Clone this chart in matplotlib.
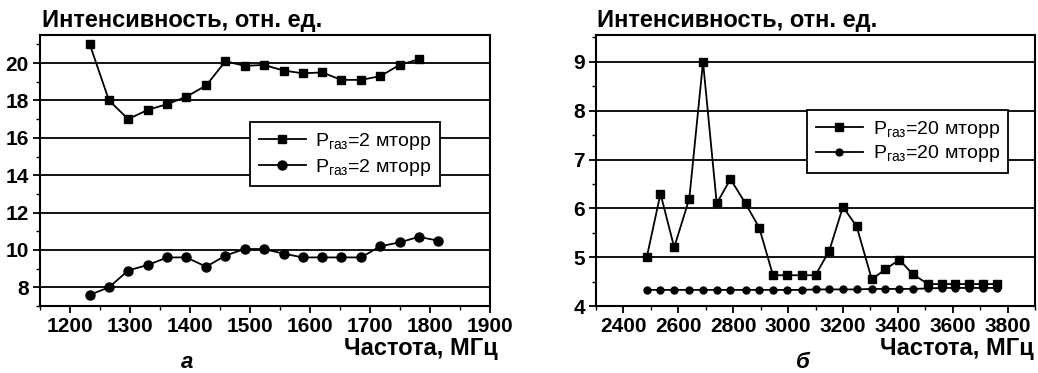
import matplotlib
matplotlib.use('Agg')
import matplotlib.pyplot as plt
from matplotlib.ticker import MultipleLocator

plt.rcParams['font.family'] = ['Liberation Sans', 'DejaVu Sans']

# panel a, 2 mTorr
freq_a_sq = [1233, 1265, 1297, 1330, 1362, 1394, 1427, 1459, 1491, 1523, 1556, 1588,
             1620, 1652, 1685, 1717, 1749, 1781]
int_a_sq = [21.0, 18.0, 17.0, 17.5, 17.8, 18.2, 18.8, 20.1, 19.85, 19.9, 19.6, 19.45,
            19.5, 19.1, 19.1, 19.3, 19.9, 20.2]
freq_a_ci = [1233, 1265, 1297, 1330, 1362, 1394, 1427, 1459, 1491, 1523, 1556, 1588,
             1620, 1652, 1685, 1717, 1749, 1781, 1813]
int_a_ci = [7.6, 8.0, 8.9, 9.2, 9.6, 9.6, 9.1, 9.7, 10.05, 10.05, 9.8, 9.6,
            9.6, 9.6, 9.6, 10.2, 10.4, 10.7, 10.5]

# panel b, 20 mTorr
freq_b = [2485, 2535, 2585, 2640, 2690, 2740, 2790, 2845, 2895, 2945, 2995, 3050, 3100,
          3150, 3200, 3250, 3305, 3355, 3405, 3455, 3510, 3560, 3610, 3660, 3710, 3760]
int_b_sq = [5.0, 6.3, 5.2, 6.2, 9.0, 6.1, 6.6, 6.1, 5.6, 4.63, 4.63, 4.63, 4.63,
            5.13, 6.03, 5.63, 4.55, 4.75, 4.95, 4.65, 4.45, 4.45, 4.45, 4.45, 4.45, 4.45]
int_b_ci = [4.33, 4.33, 4.33, 4.33, 4.33, 4.33, 4.33, 4.33, 4.33, 4.33, 4.33, 4.33, 4.34,
            4.34, 4.34, 4.34, 4.35, 4.35, 4.35, 4.35, 4.36, 4.37, 4.37, 4.37, 4.37, 4.37]

lab_a = r'$\mathregular{P_{газ}}$=2 мторр'
lab_b = r'$\mathregular{P_{газ}}$=20 мторр'

fig = plt.figure(figsize=(10.38, 3.73), dpi=100)
ax1 = fig.add_axes([0.0385, 0.1796, 0.4337, 0.7265])
ax2 = fig.add_axes([0.5742, 0.1796, 0.4229, 0.7265])

ax1.plot(freq_a_sq, int_a_sq, color='black', lw=1.3, marker='s', ms=6, label=lab_a)
ax1.plot(freq_a_ci, int_a_ci, color='black', lw=1.3, marker='o', ms=6.5, label=lab_a)
ax1.set_xlim(1150, 1900)
ax1.set_ylim(7, 21.5)
ax1.xaxis.set_minor_locator(MultipleLocator(50))
ax1.yaxis.set_minor_locator(MultipleLocator(1))
ax1.set_xticks([1200, 1300, 1400, 1500, 1600, 1700, 1800, 1900])
ax1.set_yticks([8, 10, 12, 14, 16, 18, 20])

ax2.plot(freq_b, int_b_sq, color='black', lw=1.3, marker='s', ms=6, label=lab_b)
ax2.plot(freq_b, int_b_ci, color='black', lw=1.3, marker='o', ms=5, label=lab_b)
ax2.set_xlim(2300, 3900)
ax2.set_ylim(4, 9.55)
ax2.xaxis.set_minor_locator(MultipleLocator(100))
ax2.yaxis.set_minor_locator(MultipleLocator(0.5))
ax2.set_xticks([2400, 2600, 2800, 3000, 3200, 3400, 3600, 3800])
ax2.set_yticks([4, 5, 6, 7, 8, 9])

for ax in (ax1, ax2):
    ax.grid(axis='y', which='major', color='black', lw=1.3)
    ax.set_axisbelow(True)
    for s in ax.spines.values():
        s.set_linewidth(1.5)
    ax.tick_params(which='major', direction='out', length=5, width=1.3,
                   labelsize=15, pad=3)
    ax.tick_params(which='minor', direction='out', length=3, width=1.0)
    for t in ax.get_xticklabels() + ax.get_yticklabels():
        t.set_fontweight('bold')

leg1 = ax1.legend(loc='upper left', bbox_to_anchor=(0.467, 0.679), fontsize=14,
                  frameon=True, fancybox=False, edgecolor='black', framealpha=1,
                  handlelength=2.4, borderpad=0.45, labelspacing=0.25,
                  borderaxespad=0, handletextpad=0.5)
leg1.get_frame().set_linewidth(1.3)
leg2 = ax2.legend(loc='upper left', bbox_to_anchor=(0.4815, 0.724), fontsize=14,
                  frameon=True, fancybox=False, edgecolor='black', framealpha=1,
                  handlelength=2.4, borderpad=0.45, labelspacing=0.2,
                  borderaxespad=0, handletextpad=0.5)
leg2.get_frame().set_linewidth(1.3)

title = 'Интенсивность, отн. ед.'
fig.text(41.7 / 1038, 1 - 20 / 373, title, fontsize=17, fontweight='bold', va='center')
fig.text(596.7 / 1038, 1 - 20 / 373, title, fontsize=17, fontweight='bold', va='center')
fig.text(498 / 1038, 1 - 348 / 373, 'Частота, МГц', fontsize=17, fontweight='bold',
         ha='right', va='center')
fig.text(1034 / 1038, 1 - 348 / 373, 'Частота, МГц', fontsize=17, fontweight='bold',
         ha='right', va='center')
fig.text(187 / 1038, 1 - 363 / 373, 'а', fontsize=16, fontweight='bold', style='italic',
         ha='center', va='center')
fig.text(803 / 1038, 1 - 363 / 373, 'б', fontsize=16, fontweight='bold', style='italic',
         ha='center', va='center')

fig.savefig('out.png', dpi=100)
